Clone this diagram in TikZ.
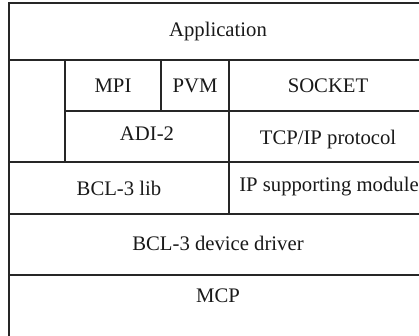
\documentclass[tikz,border=0pt]{standalone}
\usepackage{fontspec}
\setmainfont{Liberation Serif}
\begin{document}
\begin{tikzpicture}[x=1pt,y=-1pt,
  cellline/.style={draw=black!85,line width=1.6pt},
  lbl/.style={font=\fontsize{20.7}{23}\selectfont,inner sep=0pt,text=black!90}]
\useasboundingbox (0,0) rectangle (419,335);
\clip (0,0) rectangle (419,335);
\fill[white] (0,0) rectangle (419,335);
% cells
\draw[cellline] (9,3) rectangle (427,60);
\draw[cellline] (9,60) rectangle (65,162);
\draw[cellline] (65,60) rectangle (161,111);
\draw[cellline] (161,60) rectangle (229,111);
\draw[cellline] (229,60) rectangle (427,111);
\draw[cellline] (65,111) rectangle (229,162);
\draw[cellline] (229,111) rectangle (427,162);
\draw[cellline] (9,162) rectangle (229,214);
\draw[cellline] (229,162) rectangle (427,214);
\draw[cellline] (9,214) rectangle (427,275);
\draw[cellline] (9,275) rectangle (427,345);
% labels
\node[lbl] (app) at (218,32) {Application};
\node[lbl] (mpi) at (113,86) {MPI};
\node[lbl] (pvm) at (195,86) {PVM};
\node[lbl] (sock) at (328,86) {SOCKET};
\node[lbl] (adi) at (147,134) {ADI-2};
\node[lbl] (tcp) at (328,140) {TCP/IP protocol};
\node[lbl] (lib) at (119,188) {BCL-3 lib};
\node[lbl] (ip) at (329,187) {IP supporting module};
\node[lbl] (drv) at (218,243) {BCL-3 device driver};
\node[lbl] (mcp) at (218,296) {MCP};
\end{tikzpicture}
\end{document}
